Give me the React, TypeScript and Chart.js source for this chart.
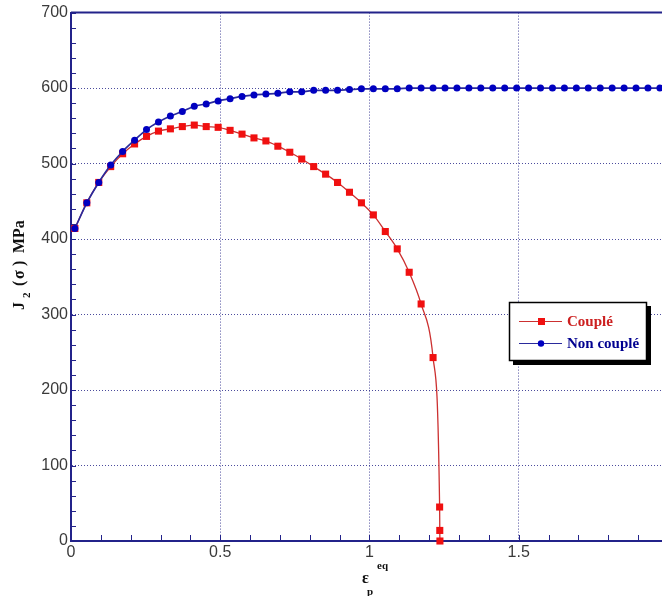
import React, { useEffect, useRef } from "react";
import { Chart, registerables } from "chart.js";
Chart.register(...registerables);

// ---- data ----
const xTickValues = [0, 0.5, 1, 1.5];
const yTickValues = [0, 100, 200, 300, 400, 500, 600, 700];

const nonCoupleX = [
  0.013, 0.053, 0.093, 0.133, 0.173, 0.213, 0.253, 0.293, 0.333, 0.373,
  0.413, 0.453, 0.493, 0.533, 0.573, 0.613, 0.653, 0.693, 0.733, 0.773,
  0.813, 0.853, 0.893, 0.933, 0.973, 1.013, 1.053, 1.093, 1.133, 1.173,
  1.213, 1.253, 1.293, 1.333, 1.373, 1.413, 1.453, 1.493, 1.533, 1.573,
  1.613, 1.653, 1.693, 1.733, 1.773, 1.813, 1.853, 1.893, 1.933, 1.973,
];
const nonCoupleY = [
  414, 448, 475, 498, 516, 531, 545, 555, 563, 569,
  576, 579, 583, 586, 589, 591, 592, 593, 595, 595,
  597, 597, 597, 598, 599, 599, 599, 599, 600, 600,
  600, 600, 600, 600, 600, 600, 600, 600, 600, 600,
  600, 600, 600, 600, 600, 600, 600, 600, 600, 600,
];

const coupleX = [
  0.013, 0.053, 0.093, 0.133, 0.173, 0.213, 0.253, 0.293, 0.333, 0.373,
  0.413, 0.453, 0.493, 0.533, 0.573, 0.613, 0.653, 0.693, 0.733, 0.773,
  0.813, 0.853, 0.893, 0.933, 0.973, 1.013, 1.053, 1.093, 1.133, 1.173,
  1.213, 1.235, 1.2355, 1.236,
];
const coupleY = [
  414, 448, 475, 496, 513, 526, 536, 543, 546, 549,
  551, 549, 548, 544, 539, 534, 530, 523, 515, 506,
  496, 486, 475, 462, 448, 432, 410, 387, 356, 314,
  243, 45, 14, 0,
];

const seriesNames = ["Couplé", "Non couplé"];

const AXIS = "#23238a";
const GRID = "rgba(45,45,140,0.85)";
const RED_LINE = "#cc3030";
const RED_PT = "#f01010";
const BLUE_LINE = "#2a2a9c";
const BLUE_PT = "#0000c0";

const decorPlugin = {
  id: "decor",
  beforeDatasetsDraw(chart: any) {
    const ctx = chart.ctx;
    const xs = chart.scales.x;
    const ys = chart.scales.y;
    const { left, right, top, bottom } = chart.chartArea;
    ctx.save();
    ctx.strokeStyle = AXIS;
    ctx.lineWidth = 1;
    for (let v = 0; v <= 700; v += 20) {
      const y = Math.round(ys.getPixelForValue(v)) + 0.5;
      ctx.beginPath();
      ctx.moveTo(left, y);
      ctx.lineTo(left + 5, y);
      ctx.stroke();
    }
    for (let k = 1; k <= 19; k++) {
      const x = Math.round(xs.getPixelForValue(k / 10)) + 0.5;
      ctx.beginPath();
      ctx.moveTo(x, bottom);
      ctx.lineTo(x, bottom - 6);
      ctx.stroke();
    }
    ctx.lineWidth = 2;
    ctx.beginPath();
    ctx.moveTo(left, top);
    ctx.lineTo(right, top);
    ctx.stroke();
    ctx.restore();
  },
  afterDraw(chart: any) {
    const ctx = chart.ctx;
    ctx.save();
    // Y title: J2(σ) MPa, rotated; screen y = 267 - x
    ctx.translate(19, 267);
    ctx.rotate(-Math.PI / 2);
    ctx.fillStyle = "#111";
    ctx.textBaseline = "alphabetic";
    const big = "bold 16px 'Liberation Serif', serif";
    const small = "bold 11px 'Liberation Serif', serif";
    ctx.font = big;
    ctx.fillText("J", -43, 5);
    ctx.font = small;
    ctx.fillText("2", -31, 11);
    ctx.font = big;
    ctx.fillText("(", -19, 5);
    ctx.fillText("σ", -12, 5);
    ctx.fillText(")", 1, 5);
    ctx.fillText("MPa", 14, 5);
    ctx.restore();

    // X title: ε_p^eq
    ctx.save();
    ctx.fillStyle = "#111";
    ctx.font = "bold 16px 'Liberation Serif', serif";
    ctx.fillText("ε", 362, 583);
    ctx.font = "bold 11px 'Liberation Serif', serif";
    ctx.fillText("eq", 377, 569);
    ctx.fillText("p", 367, 595);
    ctx.restore();

    // Legend
    ctx.save();
    const bx = 509, by = 302, bw = 138, bh = 59;
    ctx.fillStyle = "#000";
    ctx.fillRect(bx + 4, by + 4, bw, bh);
    ctx.fillStyle = "#fff";
    ctx.fillRect(bx, by, bw, bh);
    ctx.strokeStyle = "#000";
    ctx.lineWidth = 1.5;
    ctx.strokeRect(bx + 0.5, by + 0.5, bw - 1, bh - 1);
    const rows = [
      { y: 321, line: RED_LINE, pt: RED_PT, text: "#cc2020", shape: "rect" },
      { y: 343, line: BLUE_LINE, pt: BLUE_PT, text: "#000090", shape: "circle" },
    ];
    rows.forEach((r, i) => {
      ctx.strokeStyle = r.line;
      ctx.lineWidth = 1.2;
      ctx.beginPath();
      ctx.moveTo(519, r.y + 0.5);
      ctx.lineTo(562, r.y + 0.5);
      ctx.stroke();
      ctx.fillStyle = r.pt;
      if (r.shape === "rect") {
        ctx.fillRect(538, r.y - 3, 7, 7);
      } else {
        ctx.beginPath();
        ctx.arc(541, r.y + 0.5, 3.2, 0, Math.PI * 2);
        ctx.fill();
      }
      ctx.fillStyle = r.text;
      ctx.font = "bold 15px 'Liberation Serif', serif";
      ctx.textBaseline = "middle";
      ctx.fillText(seriesNames[i], 567, r.y + 1);
    });
    ctx.restore();
  },
};

export default function App() {
  const ref = useRef<HTMLCanvasElement>(null);
  useEffect(() => {
    const chart = new Chart(ref.current as HTMLCanvasElement, {
      type: "line",
      data: {
        datasets: [
          {
            label: seriesNames[0],
            data: coupleX.map((x, i) => ({ x, y: coupleY[i] })),
            borderColor: RED_LINE,
            borderWidth: 1.3,
            backgroundColor: RED_PT,
            pointBackgroundColor: RED_PT,
            pointBorderColor: RED_PT,
            pointBorderWidth: 0,
            pointStyle: "rect",
            pointRadius: 5,
            cubicInterpolationMode: "monotone",
            clip: false,
            order: 1,
          } as any,
          {
            label: seriesNames[1],
            data: nonCoupleX.map((x, i) => ({ x, y: nonCoupleY[i] })),
            borderColor: BLUE_LINE,
            borderWidth: 1.7,
            backgroundColor: BLUE_PT,
            pointBackgroundColor: BLUE_PT,
            pointBorderColor: BLUE_PT,
            pointBorderWidth: 0,
            pointStyle: "circle",
            pointRadius: 3.5,
            cubicInterpolationMode: "monotone",
            clip: false,
            order: 0,
          } as any,
        ],
      },
      options: {
        animation: false,
        responsive: false,
        devicePixelRatio: 1,
        layout: { autoPadding: false, padding: { top: 11, right: 0, left: 0, bottom: 0 } },
        plugins: {
          legend: { display: false },
          tooltip: { enabled: false },
        },
        scales: {
          x: {
            type: "linear",
            min: 0,
            max: 1.98,
            afterFit: (s: any) => {
              s.height = 55;
            },
            afterBuildTicks: (s: any) => {
              s.ticks = xTickValues.map((v) => ({ value: v }));
            },
            ticks: {
              padding: 2,
              color: "#3a3a3a",
              font: { family: "'Liberation Sans', Arial, sans-serif", size: 16 },
              maxRotation: 0,
              autoSkip: false,
              callback: (v: any) => String(v),
            },
            grid: { color: GRID, lineWidth: 1, drawTicks: false },
            border: { display: true, color: AXIS, width: 2, dash: [1, 2] },
          },
          y: {
            type: "linear",
            min: 0,
            max: 700,
            afterFit: (s: any) => {
              s.width = 71;
            },
            afterBuildTicks: (s: any) => {
              s.ticks = yTickValues.map((v) => ({ value: v }));
            },
            ticks: {
              padding: 3,
              color: "#3a3a3a",
              font: { family: "'Liberation Sans', Arial, sans-serif", size: 16 },
              autoSkip: false,
              callback: (v: any) => String(v),
            },
            grid: { color: GRID, lineWidth: 1, drawTicks: false },
            border: { display: true, color: AXIS, width: 2, dash: [1, 2] },
          },
        },
      },
      plugins: [decorPlugin],
    });
    return () => chart.destroy();
  }, []);
  return (
    <div style={{ position: "fixed", left: 0, top: 0, width: 662, height: 596, background: "#fff" }}>
      <canvas ref={ref} width={662} height={596} style={{ display: "block" }} />
    </div>
  );
}
